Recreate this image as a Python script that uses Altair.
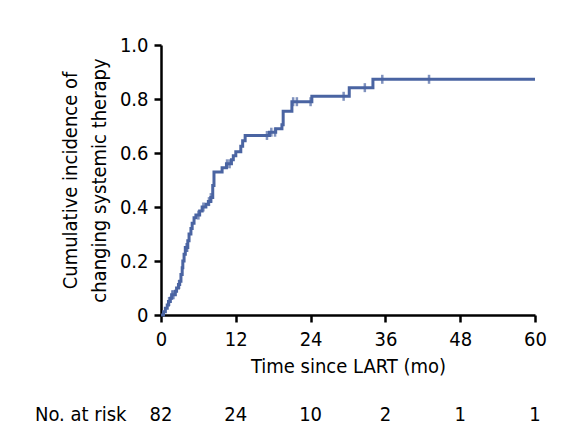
import altair as alt
import pandas as pd
import numpy as np

# Step curve: event times (months) and cumulative incidence after each step
event_times = [0, 0.4, 0.7, 1.0, 1.2, 1.5, 1.7, 2.3, 2.5, 2.8, 3.0, 3.2, 3.4, 3.5, 3.7, 3.9,
               4.3, 4.5, 4.8, 5.0, 5.3, 5.6, 6.2, 6.6, 7.2, 7.6, 8.0, 8.3, 8.5, 9.8, 10.5,
               11.3, 11.6, 12.0, 12.8, 13.1, 13.5, 17.4, 18.4, 19.4, 19.6, 21.0, 24.2,
               30.2, 34.0, 60.0]
cum_incidence = [0, 0.012, 0.025, 0.037, 0.05, 0.062, 0.075, 0.088, 0.10, 0.113, 0.125, 0.15,
                 0.175, 0.20, 0.225, 0.25, 0.275, 0.30, 0.32, 0.34, 0.36, 0.37, 0.385, 0.40,
                 0.41, 0.42, 0.435, 0.48, 0.53, 0.545, 0.56, 0.575, 0.59, 0.605, 0.625, 0.645,
                 0.665, 0.677, 0.69, 0.705, 0.755, 0.79, 0.81, 0.842, 0.873, 0.873]

# Censored observations (months)
censor_times = [1.3, 1.8, 2.0, 2.9, 4.1, 4.2, 6.0, 6.8, 7.7, 8.0, 10.6, 11.0,
                17.0, 17.7, 18.3, 21.2, 21.8, 24.0, 29.3, 32.7, 35.5, 43.0]

# Number at risk table
risk_times = [0, 12, 24, 36, 48, 60]
risk_counts = [82, 24, 10, 2, 1, 1]

FONT = "'DejaVu Sans Condensed', Roboto, sans-serif"
FS = 20
BLUE = "#4a64a2"

curve = pd.DataFrame({"t": event_times, "ci": cum_incidence})
idx = np.searchsorted(np.array(event_times), np.array(censor_times), side="right") - 1
cens = pd.DataFrame({"t": censor_times, "ci": [cum_incidence[i] for i in idx]})
risk = pd.DataFrame({"t": risk_times, "n": [str(v) for v in risk_counts]})

xscale = alt.Scale(domain=[0, 60], nice=False)
yscale = alt.Scale(domain=[0, 1], nice=False)

xaxis = alt.Axis(values=[0, 12, 24, 36, 48, 60], title="Time since LART (mo)",
                 grid=False, domainColor="black", domainWidth=2.5, tickColor="black",
                 tickWidth=2.5, tickSize=7, labelPadding=7, labelFont=FONT, labelFontSize=FS,
                 labelColor="black", titleFont=FONT, titleFontSize=FS, titleFontWeight="normal",
                 titleColor="black", titlePadding=7, labelFlush=False)
yaxis = alt.Axis(values=[0, 0.2, 0.4, 0.6, 0.8, 1.0],
                 labelExpr="datum.value == 0 ? '0' : format(datum.value, '.1f')",
                 title=["Cumulative incidence of", "changing systemic therapy"],
                 grid=False, domainColor="black", domainWidth=2.5, tickColor="black",
                 tickWidth=2.5, tickSize=7, labelPadding=6, labelFont=FONT, labelFontSize=FS,
                 labelColor="black", titleFont=FONT, titleFontSize=FS, titleFontWeight="normal",
                 titleColor="black", titlePadding=10, titleLineHeight=29, labelFlush=False)

line = alt.Chart(curve).mark_line(interpolate="step-after", color=BLUE, strokeWidth=3).encode(
    x=alt.X("t:Q", scale=xscale, axis=xaxis),
    y=alt.Y("ci:Q", scale=yscale, axis=yaxis),
)
ticks = alt.Chart(cens).mark_tick(orient="vertical", color=BLUE, size=9, thickness=2.5).encode(
    x=alt.X("t:Q", scale=xscale),
    y=alt.Y("ci:Q", scale=yscale),
)
risk_text = alt.Chart(risk).mark_text(font=FONT, fontSize=FS, color="black", baseline="middle").encode(
    x=alt.X("t:Q", scale=xscale),
    y=alt.value(370),
    text="n:N",
)
risk_label = alt.Chart(pd.DataFrame({"lab": ["No. at risk"]})).mark_text(
    font=FONT, fontSize=FS, color="black", baseline="middle", align="left").encode(
    x=alt.value(-126), y=alt.value(370), text="lab:N")

chart = alt.layer(line, ticks, risk_text, risk_label).properties(
    width=374, height=270,
    autosize=alt.AutoSizeParams(type="none"),
    padding={"left": 153, "top": 37, "right": 31, "bottom": 123},
).configure_view(stroke=None)

chart.save("out.html", embed_options={"renderer": "svg", "actions": False})
